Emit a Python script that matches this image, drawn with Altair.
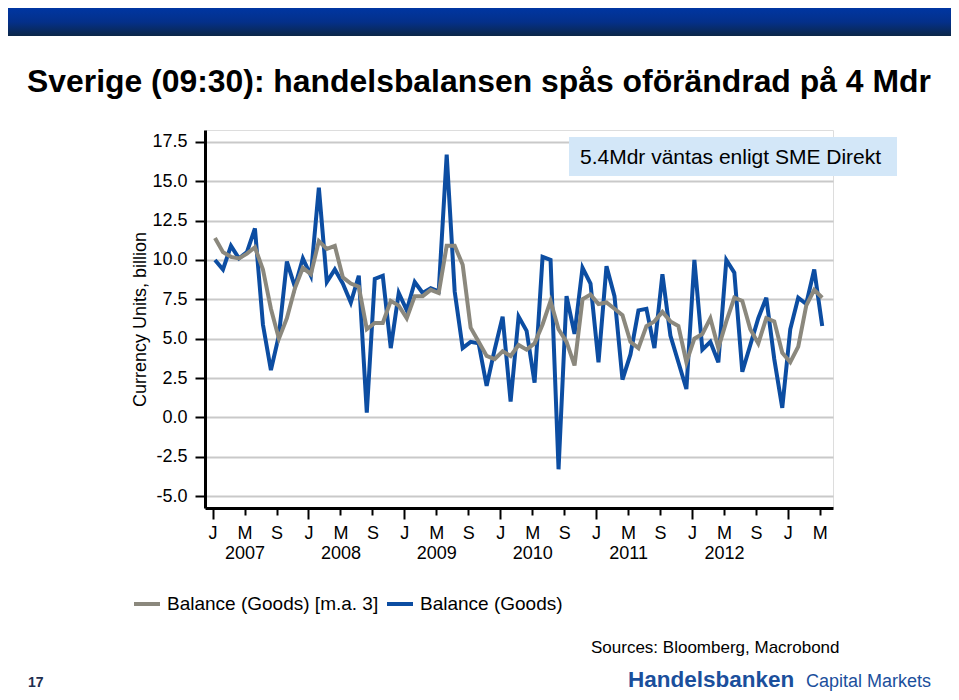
import altair as alt
import pandas as pd

FONT = "Liberation Sans"

# Monthly observations, Jan 2007 .. May 2013 (index 0 = Jan 2007)
month_index = list(range(77))
balance_goods = [10.0, 9.4, 10.9, 10.1, 10.5, 12.0, 5.9, 3.0, 5.2, 9.9, 8.3, 10.1,
                 9.0, 14.6, 8.6, 9.4, 8.5, 7.3, 9.0, 0.3, 8.8, 9.0, 4.4, 7.9,
                 6.8, 8.6, 7.9, 8.2, 8.0, 16.7, 8.0, 4.4, 4.8, 4.7, 2.0, 4.3,
                 6.4, 1.0, 6.4, 5.5, 2.2, 10.2, 10.0, -3.3, 7.7, 5.3, 9.5, 8.5,
                 3.5, 9.6, 7.7, 2.4, 4.0, 6.8, 6.9, 4.4, 9.1, 5.2, 3.5, 1.8,
                 10.0, 4.3, 4.8, 3.5, 10.0, 9.2, 2.9, 4.6, 6.3, 7.6, 3.7, 0.6,
                 5.6, 7.6, 7.2, 9.4, 5.8]
balance_ma3 = [11.4, 10.5, 10.2, 10.1, 10.4, 10.8, 9.4, 6.9, 5.0, 6.3, 8.2, 9.5,
               9.1, 11.2, 10.7, 10.9, 8.9, 8.5, 8.3, 5.6, 6.0, 6.0, 7.4, 7.1,
               6.3, 7.7, 7.7, 8.1, 7.9, 10.9, 10.9, 9.7, 5.7, 4.8, 3.9, 3.7,
               4.2, 3.9, 4.6, 4.3, 4.7, 5.9, 7.4, 5.6, 4.8, 3.3, 7.5, 7.8,
               7.2, 7.3, 6.9, 6.5, 4.8, 4.4, 5.8, 6.1, 6.7, 6.1, 5.8, 3.5,
               5.0, 5.3, 6.3, 4.4, 6.1, 7.6, 7.4, 5.6, 4.7, 6.3, 6.1, 4.1,
               3.5, 4.5, 7.1, 8.1, 7.6]

SERIES_MA = "Balance (Goods) [m.a. 3]"
SERIES_BAL = "Balance (Goods)"
series_names = [SERIES_MA, SERIES_BAL]
series_colors = ["#8b887d", "#0c4da2"]

y_ticks = [-5.0, -2.5, 0.0, 2.5, 5.0, 7.5, 10.0, 12.5, 15.0, 17.5]
x_ticks = [i - 0.3 for i in range(0, 77, 4)]  # J, M(ay), S(ep), at start of month
month_letters = ["J", "M", "S"]
first_year = 2007
last_year_label = 2012

df = pd.DataFrame({
    "m": month_index * 2,
    "v": balance_ma3 + balance_goods,
    "series": [SERIES_MA] * len(balance_ma3) + [SERIES_BAL] * len(balance_goods),
})

W, H = 628, 378

x_label_expr = (
    f"round(datum.value) % 12 == 4 && round(datum.value) < {(last_year_label - first_year + 1) * 12} ? "
    f"['M', '' + ({first_year} + floor(round(datum.value) / 12))] : "
    f"{month_letters}[floor((round(datum.value) % 12) / 4)]"
)
is_jan = "round(datum.value) % 12 == 0"

x_enc = alt.X(
    "m:Q",
    scale=alt.Scale(domain=[-1.25, 77.35], nice=False, zero=False),
    axis=alt.Axis(
        values=x_ticks, labelExpr=x_label_expr, title=None, grid=False,
        tickSize={"condition": {"test": is_jan, "value": 11}, "value": 7},
        labelPadding={"condition": {"test": is_jan, "value": 5}, "value": 9},
        tickWidth=2, tickColor="black", domainColor="black", domainWidth=3,
        labelFontSize=18, labelFont=FONT, labelColor="black",
        labelLineHeight=20, labelOverlap=False, labelFlush=False, labelBound=False,
    ),
)
y_enc = alt.Y(
    "v:Q",
    scale=alt.Scale(domain=[-5.76, 18.26], nice=False, zero=False),
    axis=alt.Axis(
        values=y_ticks,
        labelExpr="(datum.value < 0 ? '-' : '') + format(abs(datum.value), '.1f')",
        title="Currency Units, billion", titleFont=FONT, titleFontSize=18,
        titleFontWeight="normal", titleColor="black", titleX=-65, titleY=189,
        titleAngle=270, titleAlign="center", titleBaseline="middle",
        grid=True, gridColor="#c9c9c9", gridWidth=2,
        tickSize=10, tickWidth=2, tickColor="black", domainColor="black", domainWidth=3,
        labelFontSize=18, labelFont=FONT, labelColor="black", labelPadding=8,
    ),
)
legend = alt.Legend(
    title=None, orient="none", legendX=-73, legendY=459, direction="horizontal",
    symbolType="stroke", symbolStrokeWidth=4, symbolSize=676,
    labelFontSize=19, labelFont=FONT, labelColor="black", labelOffset=5,
    columnPadding=0, labelLimit=400, padding=0,
)
color_enc = alt.Color("series:N", scale=alt.Scale(domain=series_names, range=series_colors), legend=legend)

base = alt.Chart(df)
line_bal = base.transform_filter(alt.datum.series == SERIES_BAL).mark_line(strokeWidth=4, strokeJoin="miter").encode(
    x=x_enc, y=y_enc, color=color_enc)
line_ma = base.transform_filter(alt.datum.series == SERIES_MA).mark_line(strokeWidth=4, strokeJoin="miter").encode(
    x=x_enc, y=y_enc, color=color_enc)

one = alt.Data(values=[{"k": 0}])


def text(t, x, y, size, weight="normal", color="black"):
    return alt.Chart(one).mark_text(
        text=t, fontSize=size, fontWeight=weight, color=color, align="left",
        baseline="alphabetic", font=FONT,
    ).encode(x=alt.value(x), y=alt.value(y))


banner = alt.Chart(one).mark_rect(
    color=alt.Gradient(
        gradient="linear",
        stops=[alt.GradientStop(color="#0036a2", offset=0),
               alt.GradientStop(color="#04308a", offset=0.5),
               alt.GradientStop(color="#0b2748", offset=1)],
        x1=0, x2=0, y1=0, y2=1,
    )
).encode(x=alt.value(-197), x2=alt.value(746), y=alt.value(-122), y2=alt.value(-94))

note_box = alt.Chart(one).mark_rect(color="#d3e7f8").encode(
    x=alt.value(364), x2=alt.value(692), y=alt.value(7), y2=alt.value(46))

chart = alt.layer(
    banner,
    note_box,
    line_bal,
    line_ma,
    text("5.4Mdr väntas enligt SME Direkt", 375, 34, 21),
    text("Sverige (09:30): handelsbalansen spås oförändrad på 4 Mdr", -178, -38, 31.9, "bold"),
    text("Sources: Bloomberg, Macrobond", 386, 523, 17),
    text("17", -177, 557, 14, "bold", "#1f2f4f"),
    text("Handelsbanken", 423, 557, 22.5, "bold", "#1b4f9c"),
    text("Capital Markets", 601, 557, 18, "normal", "#1b4f9c"),
).properties(
    width=W, height=H,
    padding={"left": 197, "top": 122, "right": 118, "bottom": 184},
    autosize="none",
).configure_view(stroke="black", strokeWidth=2).configure(background="white")

chart.save("out.html", embed_options={"renderer": "svg", "actions": False})
